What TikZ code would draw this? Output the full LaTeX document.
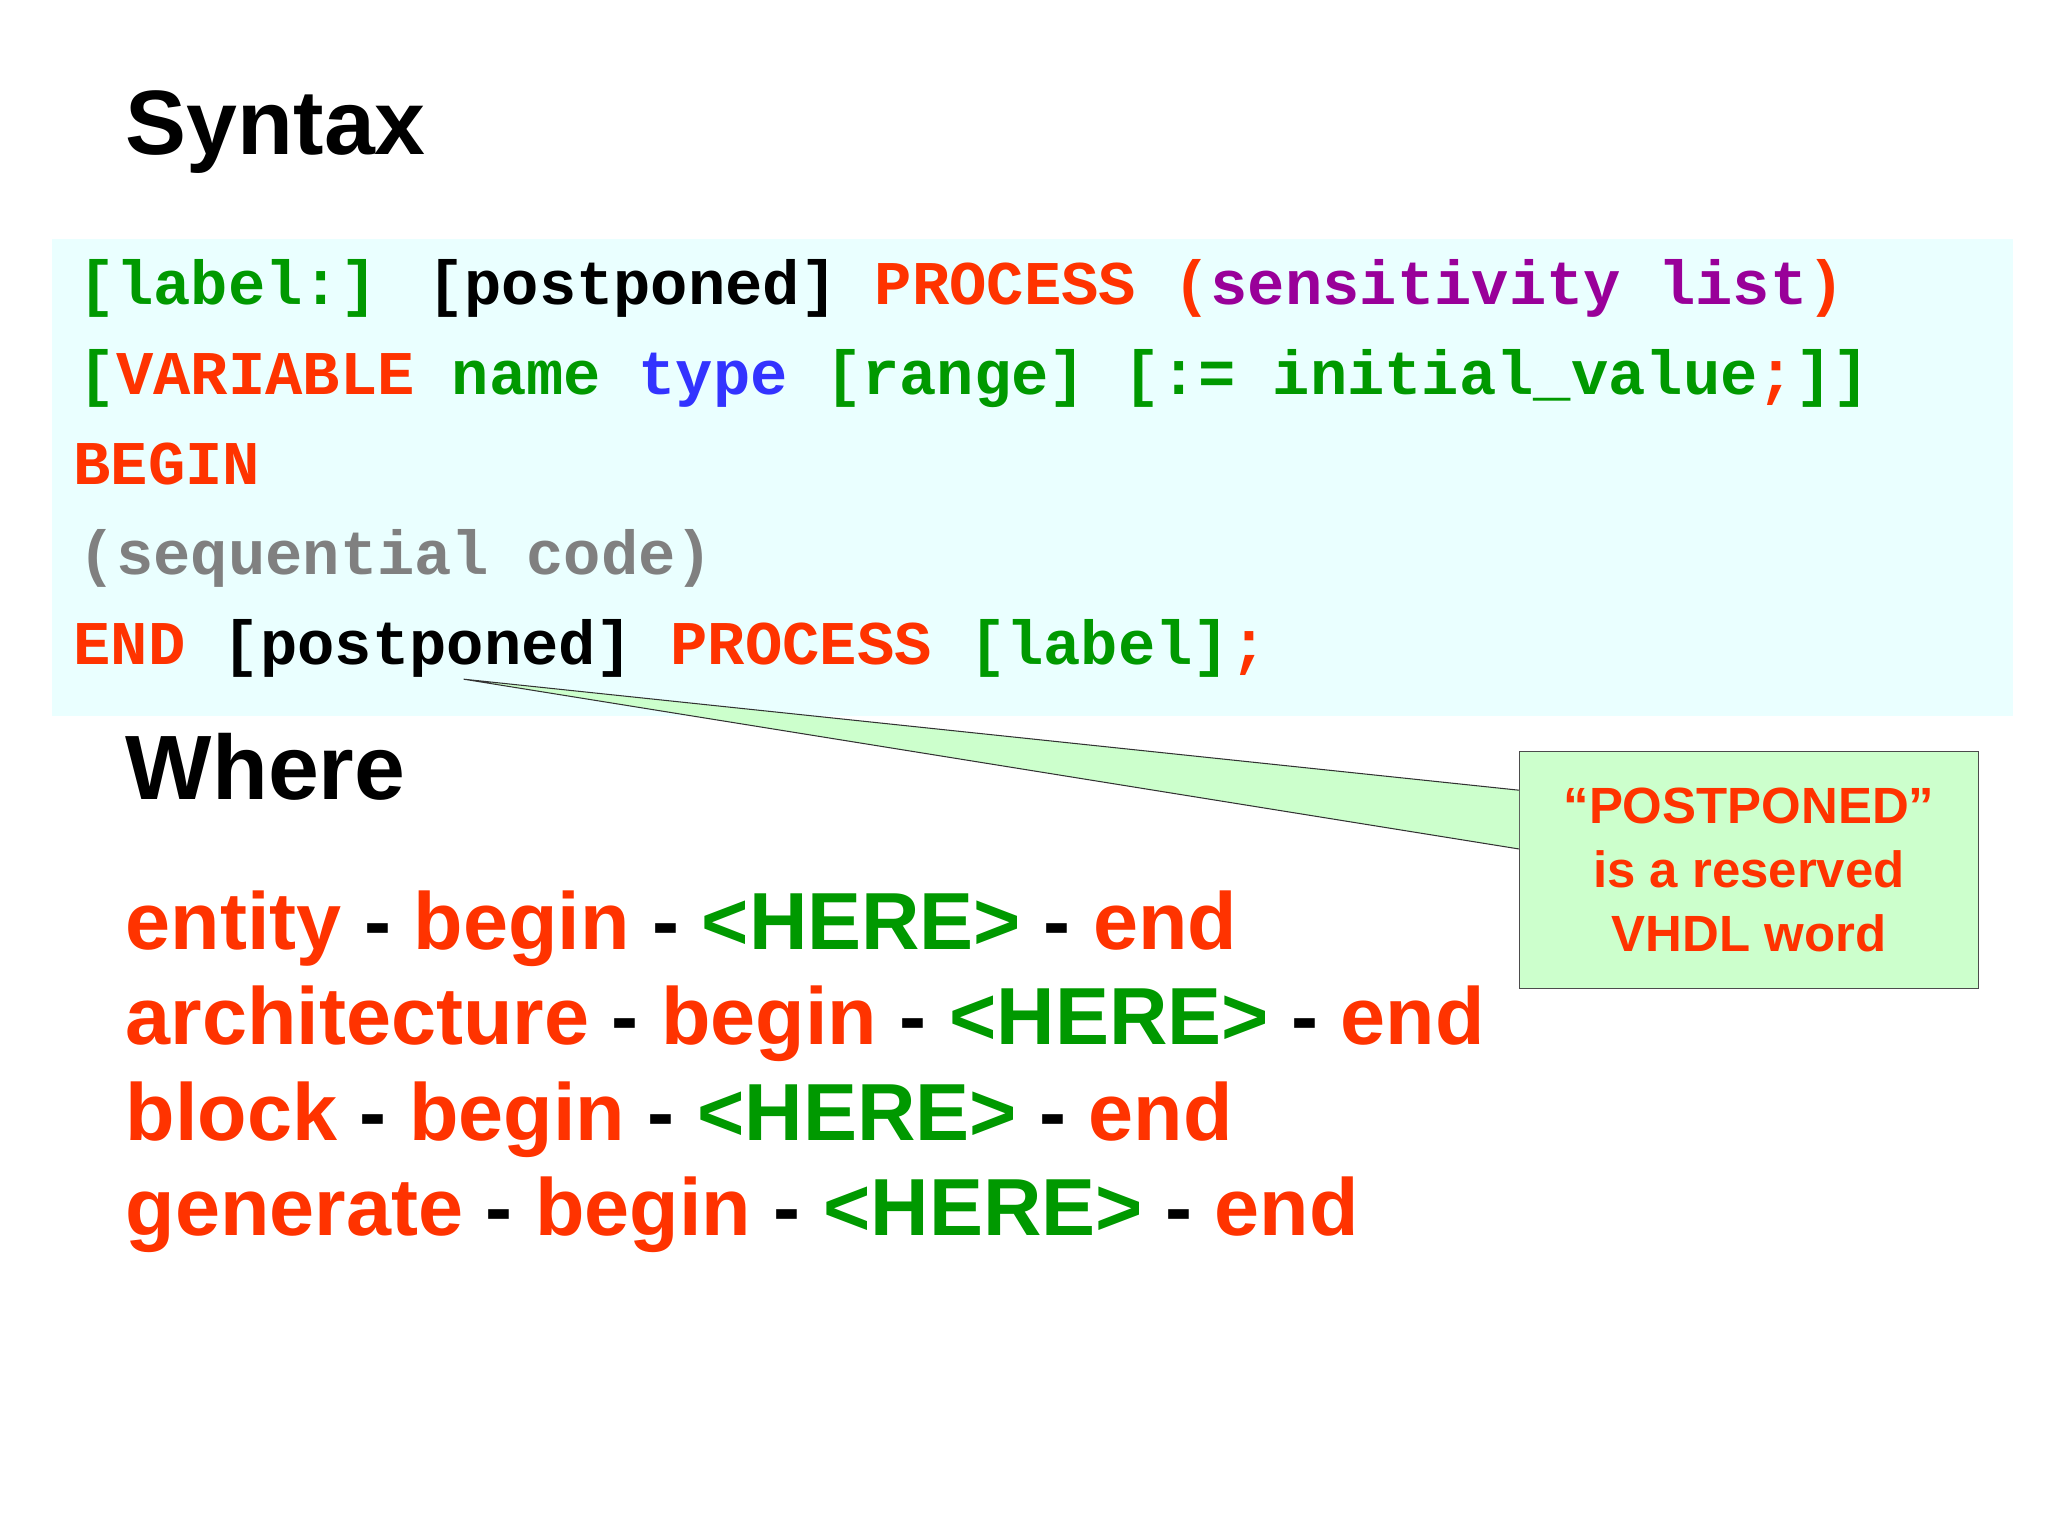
\documentclass[tikz,border=0pt]{standalone}
\usepackage{fontspec}
\setmainfont{Liberation Sans}
\newfontfamily\codef{Liberation Mono}
\definecolor{cred}{HTML}{FF3300}
\definecolor{cgreen}{HTML}{009900}
\definecolor{cpurple}{HTML}{990099}
\definecolor{cblue}{HTML}{3333FF}
\definecolor{cgray}{HTML}{808080}
\definecolor{codebg}{HTML}{EAFFFF}
\definecolor{callbg}{HTML}{CCFFCC}
\begin{document}
\begin{tikzpicture}[x=0.5pt,y=-0.5pt,
  code/.style={anchor=base west,inner sep=0,font=\codef\bfseries\fontsize{23.8}{28}\selectfont},
  head/.style={anchor=base west,inner sep=0,font=\bfseries\fontsize{35}{40}\selectfont},
  where/.style={anchor=base west,inner sep=0,font=\bfseries\fontsize{31}{36}\selectfont}]
\fill[white] (0,0) rectangle (1568,1176);
\useasboundingbox (0,0) rectangle (1568,1176);
\fill[codebg] (40,183) rectangle (1541,548);
\node[head] (syn) at (96,118) {Syntax};
\node[code] (l1) at (60,233) {\textcolor{cgreen}{[label:]} [postponed] \textcolor{cred}{PROCESS} \textcolor{cred}{(}\textcolor{cpurple}{sensitivity list}\textcolor{cred}{)}};
\node[code] (l2) at (60,302) {\textcolor{cgreen}{[}\textcolor{cred}{VARIABLE} \textcolor{cgreen}{name} \textcolor{cblue}{type} \textcolor{cgreen}{[range] [:= initial\_value}\textcolor{cred}{;}\textcolor{cgreen}{]]}};
\node[code,text=cred] (l3) at (56,371) {BEGIN};
\node[code,text=cgray] (l4) at (60,440) {(sequential code)};
\node[code] (l5) at (56,509) {\textcolor{cred}{END} [postponed] \textcolor{cred}{PROCESS} \textcolor{cgreen}{[label]}\textcolor{cred}{;}};
\coordinate (tip) at (355,520);
\node[draw=black!70,fill=callbg,minimum width=176pt,minimum height=91pt,inner sep=0] (call) at (1339,666) {};
\fill[callbg] (tip) -- (1163,605) -- (1163,650) -- cycle;
\draw[black!80] (1163,605) -- (tip) -- (1163,650);
\node[align=center,text=cred,font=\bfseries\fontsize{19.5}{24.5}\selectfont] (ct) at (call.center) {``POSTPONED''\\is a reserved\\VHDL word};
\node[head] (wh) at (96,612) {Where};
\node[where] (w1) at (96,727) {\textcolor{cred}{entity} - \textcolor{cred}{begin} - \textcolor{cgreen}{<HERE>} - \textcolor{cred}{end}};
\node[where] (w2) at (96,800) {\textcolor{cred}{architecture} - \textcolor{cred}{begin} - \textcolor{cgreen}{<HERE>} - \textcolor{cred}{end}};
\node[where] (w3) at (96,873) {\textcolor{cred}{block} - \textcolor{cred}{begin} - \textcolor{cgreen}{<HERE>} - \textcolor{cred}{end}};
\node[where] (w4) at (96,946) {\textcolor{cred}{generate} - \textcolor{cred}{begin} - \textcolor{cgreen}{<HERE>} - \textcolor{cred}{end}};
\end{tikzpicture}
\end{document}
